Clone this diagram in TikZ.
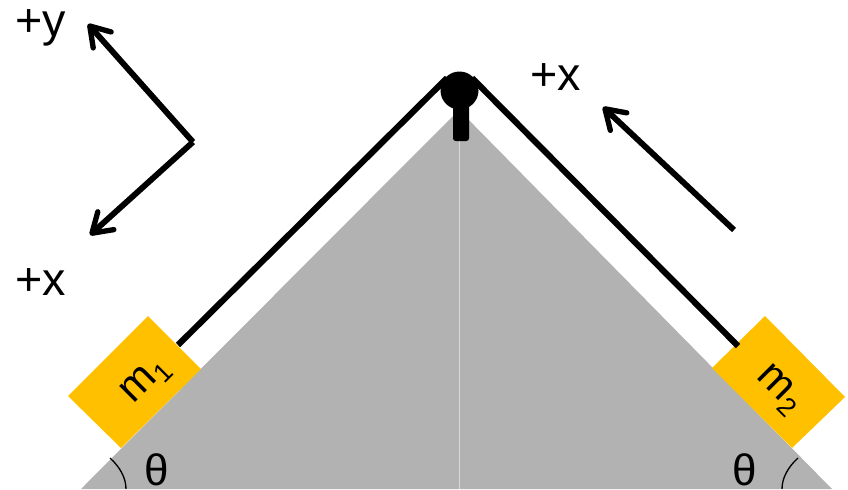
\documentclass[tikz,border=0pt]{standalone}
\usepackage{fontspec}
\setmainfont{Liberation Sans}
\usetikzlibrary{arrows.meta}
\definecolor{slopegray}{HTML}{B2B2B2}
\definecolor{blockgold}{HTML}{FFC000}
\tikzset{
  px/.style={x=0.75pt,y=-0.75pt},
  rope/.style={line width=4.6pt,black},
  axisarrow/.style={line width=4.4pt,black,-{Straight Barb[length=14pt,width=18pt,round,line width=4pt]}},
  lbl/.style={inner sep=0pt,font=\fontsize{35pt}{35pt}\selectfont},
  blocklbl/.style={inner sep=0pt,font=\fontsize{32pt}{32pt}\selectfont},
  thetalbl/.style={inner sep=0pt,font=\fontsize{33pt}{33pt}\selectfont},
  thetaarc/.style={line width=1pt,black},
}
\newcommand{\subm}[1]{\raisebox{-6pt}{\fontsize{20pt}{20pt}\selectfont #1}}
\begin{document}
\begin{tikzpicture}[px]
\useasboundingbox (0,0) rectangle (848,489);
% slope
\fill[slopegray] (81,489) -- (459,110) -- (832,489) -- cycle;
\draw[line width=0.8pt,color=black!15] (459.5,130) -- (459.5,489);
% blocks
\fill[blockgold] (148,316) -- (68,396) -- (121,448) -- (201,369) -- cycle;
\fill[blockgold] (765,316) -- (845,397) -- (792,448) -- (712,368) -- cycle;
% pulley
\node[circle,fill=black,minimum size=28.5pt,inner sep=0pt] (pulley) at (459.5,90.5) {};
\node[fill=black,rounded corners=2pt,minimum width=12pt,minimum height=30pt,inner sep=0pt] (stem) at (461,121) {};
% rope anchors
\coordinate (m1top) at (178,345);
\coordinate (m2top) at (738,346);
\coordinate (pl) at (447,78);
\coordinate (pr) at (472,78);
\draw[rope] (m1top) -- (pl);
\draw[rope] (m2top) -- (pr);
% axes
\coordinate (o) at (193,142);
\coordinate (yt) at (88,24);
\coordinate (xt) at (90,235);
\coordinate (as) at (734,230);
\coordinate (at) at (603,107);
\draw[axisarrow] (o) -- (yt);
\draw[axisarrow] (o) -- (xt);
\draw[axisarrow] (as) -- (at);
% labels
\node[lbl] (ly) at (41,28) {+y};
\node[lbl] (lx1) at (41,282) {+x};
\node[lbl] (lx2) at (556,77) {+x};
\node[blocklbl,rotate=45] (m1) at (146,381) {m\subm{1}};
\node[blocklbl,rotate=-45] (m2) at (779,390) {m\subm{2}};
\node[thetalbl] (t1) at (157,470) {θ};
\node[thetalbl] (t2) at (745,470) {θ};
% angle arcs
\draw[thetaarc] (110,458) .. controls (120,467) and (126,478) .. (126,489);
\draw[thetaarc] (798,458) .. controls (788,467) and (782,478) .. (782,489);
\end{tikzpicture}
\end{document}
